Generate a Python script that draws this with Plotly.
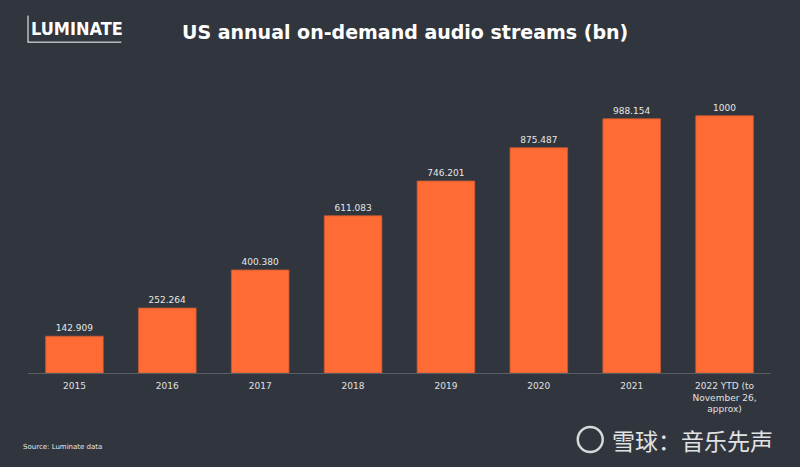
import plotly.graph_objects as go

categories = ["2015", "2016", "2017", "2018", "2019", "2020", "2021",
              "2022 YTD (to<br>November 26,<br>approx)"]
values = [142.909, 252.264, 400.380, 611.083, 746.201, 875.487, 988.154, 1000]
value_labels = ["142.909", "252.264", "400.380", "611.083", "746.201",
                "875.487", "988.154", "1000"]

BG = "#31363e"
BAR = "#ff6b35"

fig = go.Figure()
fig.add_trace(go.Bar(
    x=categories, y=values,
    marker=dict(color=BAR, line=dict(color="#c85a30", width=0.8)),
    width=0.62,
    text=value_labels, textposition="outside",
    textfont=dict(family="DejaVu Sans", size=9, color="#e6e6e6"),
    cliponaxis=False,
))

W, H = 800, 467
left, right = 27.5, 771.5
top_px, bottom_px = 90.3, 373
fig.update_layout(
    width=W, height=H,
    paper_bgcolor=BG, plot_bgcolor=BG,
    margin=dict(l=left, r=W - right, t=top_px, b=H - bottom_px, pad=0),
    showlegend=False,
    bargap=0.38,
    xaxis=dict(
        showgrid=False, zeroline=False,
        showline=True, linecolor="#5a5f66", linewidth=1,
        ticks="", tickfont=dict(family="DejaVu Sans", size=9, color="#e0e0e0"),
        ticklabelstandoff=4,
    ),
    yaxis=dict(range=[0, 1100], visible=False, showgrid=False, zeroline=False),
    font=dict(family="DejaVu Sans"),
)

def px_x(x):
    return (x - left) / (right - left)

def px_y(y):
    return (bottom_px - y) / (bottom_px - top_px)

# Title
fig.add_annotation(
    text="<b>US annual on-demand audio streams (bn)</b>",
    xref="paper", yref="paper", x=px_x(405), y=px_y(32),
    xanchor="center", yanchor="middle", showarrow=False,
    font=dict(family="DejaVu Sans", size=19, color="#ffffff"),
)

# Logo
fig.add_annotation(
    text="<b>LUMINATE</b>", xref="paper", yref="paper",
    x=px_x(29), y=px_y(29), xanchor="left", yanchor="middle", showarrow=False,
    font=dict(family="DejaVu Sans Condensed", size=18, color="#ffffff"),
)
fig.add_shape(type="line", xref="paper", yref="paper",
              x0=px_x(27.5), x1=px_x(27.5), y0=px_y(16), y1=px_y(43),
              line=dict(color="#ffffff", width=1))
fig.add_shape(type="line", xref="paper", yref="paper",
              x0=px_x(27.5), x1=px_x(121), y0=px_y(42.5), y1=px_y(42.5),
              line=dict(color="#ffffff", width=1))

# Source
fig.add_annotation(
    text="Source: Luminate data", xref="paper", yref="paper",
    x=px_x(20), y=px_y(447), xanchor="left", yanchor="middle", showarrow=False,
    font=dict(family="DejaVu Sans", size=7, color="#e6e6e6"),
)

# Watermark
fig.add_shape(type="circle", xref="paper", yref="paper",
              x0=px_x(578), x1=px_x(603), y0=px_y(427), y1=px_y(452),
              line=dict(color="#d8d8d8", width=2.5))
fig.add_annotation(
    text="雪球：音乐先声", xref="paper", yref="paper",
    x=px_x(610), y=px_y(440), xanchor="left", yanchor="middle", showarrow=False,
    font=dict(family="Noto Sans CJK SC", size=23, color="#e2e2e2"),
)

fig.write_html(
    "out.html",
    config={"displayModeBar": False},
    post_script="document.body.style.margin='0';document.body.style.background='%s';" % BG,
)
